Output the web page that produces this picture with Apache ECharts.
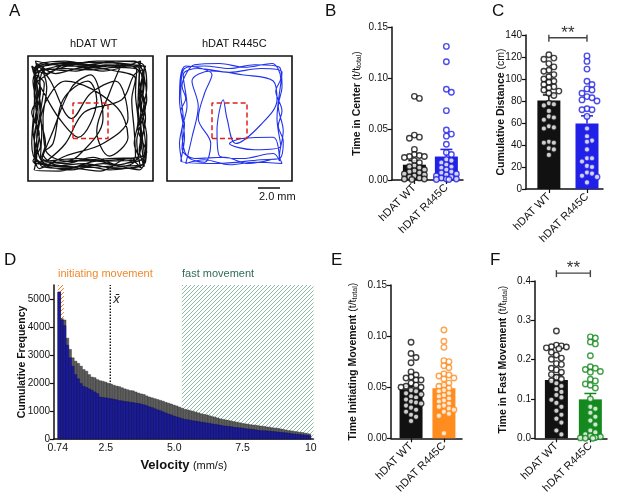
<!DOCTYPE html>
<html>
<head>
<meta charset="utf-8">
<script src="https://cdn.jsdelivr.net/npm/echarts@6/dist/echarts.min.js"></script>
<style>
html, body { margin: 0; padding: 0; background: #fff; }
#chart { width: 617px; height: 496px; }
</style>
</head>
<body>
<div id="chart"></div>
<script>
// ============================
// Datos
// ============================
var groups = ["hDAT WT", "hDAT R445C"];

// B. Tiempo en el centro
var centerWT = [0.080, 0.082, 0.044, 0.042, 0.041, 0.030, 0.024, 0.023, 0.023, 0.025, 0.022, 0.019, 0.017,
    0.014, 0.013, 0.012, 0.010, 0.009, 0.008, 0.007, 0.006, 0.005, 0.004, 0.003, 0.002, 0.001, 0.001, 0.0005];
var centerR = [0.131, 0.116, 0.086, 0.089, 0.068, 0.049, 0.045, 0.043, 0.035, 0.027, 0.025, 0.020, 0.019,
    0.017, 0.015, 0.013, 0.012, 0.010, 0.008, 0.007, 0.006, 0.005, 0.004, 0.003, 0.002, 0.001, 0.001, 0.0005, 0.0005];
var centerMean = [0.015, 0.023];
var centerSem = [0.004, 0.007];

// C. Distancia acumulada
var distWT = [122, 119, 118, 114, 111, 108, 107, 104, 102, 100, 98, 97, 95, 93, 92, 90, 89, 87, 85,
    78, 77, 76, 71, 66, 65, 63, 57, 56, 55, 43, 42, 42, 37, 36, 31];
var distR = [121, 116, 109, 98, 95, 91, 90, 87, 84, 83, 81, 80, 73, 72, 72, 66, 55, 48, 44, 43, 36,
    28, 28, 25, 21, 20, 15, 14, 12, 11, 6];
var distMean = [80.5, 59.5];
var distSem = [5, 7];
var distSig = 137.5;

// E. Tiempo iniciando movimiento
var initWT = [0.094, 0.083, 0.079, 0.074, 0.065, 0.062, 0.060, 0.059, 0.057, 0.057, 0.054, 0.052, 0.051,
    0.050, 0.050, 0.047, 0.046, 0.044, 0.043, 0.041, 0.040, 0.038, 0.036, 0.035, 0.034, 0.032, 0.030,
    0.028, 0.026, 0.023, 0.021, 0.017];
var initR = [0.106, 0.095, 0.089, 0.076, 0.075, 0.071, 0.069, 0.063, 0.062, 0.061, 0.059, 0.058, 0.054,
    0.052, 0.051, 0.049, 0.047, 0.046, 0.044, 0.042, 0.041, 0.039, 0.037, 0.036, 0.034, 0.032, 0.031,
    0.029, 0.028, 0.026, 0.024, 0.022, 0.005];
var initMean = [0.048, 0.049];
var initSem = [0.003, 0.0035];

// F. Tiempo en movimiento rapido
var fastWT = [0.273, 0.237, 0.235, 0.233, 0.232, 0.230, 0.228, 0.219, 0.212, 0.204, 0.201, 0.190, 0.188,
    0.178, 0.174, 0.168, 0.162, 0.155, 0.150, 0.146, 0.140, 0.133, 0.125, 0.118, 0.110, 0.104, 0.098,
    0.090, 0.080, 0.070, 0.060, 0.050, 0.040, 0.020, 0.010];
var fastR = [0.258, 0.255, 0.245, 0.240, 0.210, 0.182, 0.178, 0.175, 0.170, 0.168, 0.150, 0.146, 0.138,
    0.135, 0.128, 0.100, 0.080, 0.075, 0.065, 0.055, 0.045, 0.035, 0.020, 0.015, 0.010, 0.006, 0.004,
    0.002, 0.001, 0.000, 0.000];
var fastMean = [0.148, 0.099];
var fastSem = [0.013, 0.015];
var fastSig = 0.42;

// D. Histograma de velocidad
var velBinStart = 0.74;
var velBinWidth = 0.1;
var freqWT = [5250, 4300, 4250, 3600, 3200, 2900, 2780, 2700, 2600, 2480, 2420, 2300, 2210, 2190, 2120,
    2080, 2060, 2030, 1990, 1960, 1920, 1890, 1870, 1830, 1790, 1760, 1730, 1720, 1680, 1640, 1610,
    1590, 1540, 1500, 1470, 1440, 1410, 1380, 1350, 1310, 1280, 1250, 1210, 1180, 1140, 1100, 1060,
    1040, 1010, 990, 960, 930, 900, 880, 860, 830, 800, 780, 750, 720, 700, 680, 660, 640, 620, 600,
    580, 560, 540, 530, 510, 500, 490, 470, 460, 450, 430, 420, 400, 390, 380, 360, 340, 320, 300,
    290, 270, 260, 240, 230, 210, 190, 170];
var freqR = [5250, 4250, 4050, 3350, 2900, 2600, 2300, 2150, 1980, 1880, 1840, 1790, 1740, 1680, 1620,
    1500, 1480, 1470, 1450, 1440, 1420, 1400, 1370, 1360, 1340, 1330, 1310, 1300, 1280, 1270, 1250,
    1220, 1190, 1150, 1120, 1080, 1040, 1010, 970, 930, 890, 860, 820, 790, 760, 730, 700, 690, 670,
    650, 640, 620, 600, 590, 570, 560, 540, 520, 510, 490, 470, 460, 450, 440, 420, 410, 400, 390,
    375, 360, 350, 340, 325, 310, 300, 295, 290, 280, 270, 260, 250, 240, 230, 220, 205, 190, 180,
    170, 160, 150, 140, 130, 120];
var velMean = 2.66;
var initRange = [0.74, 0.96];
var fastRange = [5.28, 10.1];
var velTicks = [0.74, 2.5, 5.0, 7.5, 10];
var velTickLabels = ["0.74", "2.5", "5.0", "7.5", "10"];
var freqTicks = [0, 1000, 2000, 3000, 4000, 5000];

// A. Trayectorias en el campo abierto (mm, 0-10)
var trackWT = [[0.6, 1.2], [0.5, 3], [0.7, 5], [0.5, 7], [0.8, 9.2], [2.5, 9.4], [4.5, 9.3], [6.5, 9.5],
    [8.5, 9.3], [9.3, 9.1], [9.2, 7], [9.4, 5], [9.1, 3], [9.3, 1.2], [7, 1.0], [5, 1.3], [3, 1.0], [1, 1.3],
    [2, 4], [3.5, 7.5], [5, 8.5], [6, 5], [4, 2], [2.5, 1.5],
    [1, 1.8], [1.1, 4], [0.9, 6.5], [1.2, 8.8], [3, 9], [5, 8.9], [7, 9.1], [8.9, 8.8], [8.8, 6], [9, 4],
    [8.7, 1.7], [6, 1.6], [4, 1.8], [1.5, 1.6],
    [3, 3], [4.5, 5.5], [7.5, 6.5], [8.5, 8.5],
    [9.2, 8.9], [9.0, 6.5], [9.3, 4.5], [8.9, 2.5], [9.2, 1.4], [7.5, 1.2], [5.5, 1.6], [3.5, 1.1], [1.2, 1.5],
    [0.7, 3.5], [1, 6], [0.7, 8], [1.5, 9.3], [3.5, 9.5], [5.5, 9.1], [7.5, 9.4],
    [6.5, 7], [5.5, 4], [6.5, 2], [8, 3.5], [7, 6], [3, 8], [1.5, 6.5],
    [0.9, 4.5], [0.6, 2], [2, 1.2], [4.5, 1.4], [6.5, 1.1], [8.5, 1.5], [9.1, 3.5], [8.8, 5.5], [9.2, 7.5],
    [8.6, 9.2], [6, 9.2], [4, 9.4], [2, 9.1], [0.6, 8.5], [1.3, 7],
    [2.5, 5], [4, 3.5], [5.5, 6.5], [4.8, 8], [2.8, 6.5], [2, 3], [1.2, 2.2],
    [2.2, 1.3], [5, 1.1], [7.8, 1.4], [9.3, 2], [9, 5], [9.3, 8], [8, 9.3], [5, 9.5], [2, 9.3], [0.5, 8.8],
    [0.8, 5.5], [0.5, 3.5], [0.9, 1],
    [3, 2], [6, 3], [8, 5], [7, 8], [5, 7], [3.5, 5], [1.8, 8],
    [1.1, 9], [3.8, 8.8], [6.2, 9.3], [8.7, 9], [8.6, 7], [8.8, 4.8], [8.5, 3], [8.9, 1.9], [6.5, 1.8],
    [3, 1.6], [1.4, 2.5], [1.2, 5], [1.5, 7.5], [0.9, 9.1],
    [0.4, 8], [0.7, 6], [0.4, 4], [0.7, 2], [0.5, 0.9], [2.5, 0.8], [4.5, 1.2], [6.5, 0.9], [8.5, 1.1],
    [9.4, 1.5], [9.5, 3.5], [9.2, 5.5], [9.5, 7.5], [9.1, 9.4], [7, 9.6], [5, 9.3], [3, 9.6], [1, 9.4],
    [0.4, 8.8], [1.3, 7.8], [1.0, 5.2], [1.4, 3], [1.1, 1.9], [3, 1.4], [5.2, 1.9], [7.2, 1.3], [8.6, 2],
    [8.5, 4], [8.3, 6.5], [8.6, 8.2], [7, 8.8], [4.5, 9.1], [2.2, 8.6], [0.7, 9.4], [0.5, 6], [0.3, 3],
    [0.8, 1.5], [3.5, 0.9], [6, 1.4], [8.9, 0.9], [9.4, 2.8], [8.9, 6.8], [9.4, 9.2], [6.8, 9.2],
    [3.2, 9.2], [0.6, 9.6],
    [1.0, 7.2], [0.6, 5.0], [1.0, 2.8], [0.4, 1.6], [2.8, 1.2], [5.8, 0.8], [8.0, 1.8], [9.0, 1.1],
    [8.7, 3.2], [9.4, 6.0], [8.9, 8.0], [9.0, 9.6], [6.0, 8.8], [3.0, 9.3], [1.4, 8.6], [0.3, 9.2],
    [0.8, 6.8], [0.3, 5.5], [0.9, 3.8], [0.5, 1.4], [4.0, 1.6], [7.0, 1.7], [9.5, 2.3], [8.8, 4.2],
    [9.5, 6.5], [8.5, 9.6], [5.5, 9.6], [2.5, 9.0], [0.8, 8.0]];
var trackR = [[1.2, 1.5], [1, 3], [1.3, 5], [1.1, 7], [1.4, 9], [3, 9.2], [5, 9], [7, 9.3], [9, 9.1],
    [9.2, 7.5], [8.9, 6], [9.3, 4], [9, 2], [9.2, 1.4], [7, 1.5], [5, 1.3], [3, 1.7], [1.5, 1.4],
    [2, 3.5], [2.5, 6], [2, 8], [3.5, 8.8], [6, 8.5], [8.5, 8], [8.8, 6.5], [7.5, 4.5], [5.5, 3], [4.8, 5],
    [4.5, 6.5], [4, 4], [4.2, 2], [6, 1.8], [8.5, 2.2], [9, 1.6],
    [8.5, 3.5], [6, 3.4], [5, 3], [7, 2.5], [9.1, 2.8], [8.8, 5], [9.2, 8.7], [7.5, 9], [5, 8.7], [2.5, 9],
    [1.3, 8.5], [1.6, 6], [1.2, 4], [1.6, 2], [3, 1.5], [3.5, 3], [2.5, 5], [3, 7], [3.6, 8.5], [1.5, 9.2],
    [1, 6.5], [1.4, 3.5], [1.1, 1.6], [4, 1.4], [7.5, 1.7], [9, 1.8],
    [9.3, 3.2], [8.9, 4.4], [9.2, 5.6], [8.7, 7.2], [9.1, 8.2], [8.4, 9.4], [6.2, 9.1], [4.2, 9.4],
    [2.2, 9.3], [1.6, 8.7], [1.2, 7.6], [1.5, 6.6], [1.1, 5.6], [1.4, 4.6], [1.2, 2.6], [2.2, 1.8],
    [4.6, 1.9], [6.5, 1.4], [8.3, 1.7]];
var centerZone = [[3.6, 3.4], [6.4, 3.4], [6.4, 6.25], [3.6, 6.25], [3.6, 3.4]];

// ============================
// Estilos comunes
// ============================
var FONT = "Liberation Sans, Arial, sans-serif";
var BLUE = "#2020e6";
var ORANGE = "#ff8c1f";
var GREEN = "#148a1e";
var BLACK = "#111";
var TICK_FONT = 10;

function hatch(color, lw) {
    var c = document.createElement("canvas");
    c.width = 4;
    c.height = 4;
    var g = c.getContext("2d");
    g.strokeStyle = color;
    g.lineWidth = lw;
    g.beginPath();
    g.moveTo(0, 4); g.lineTo(4, 0);
    g.moveTo(-1, 1); g.lineTo(1, -1);
    g.moveTo(3, 5); g.lineTo(5, 3);
    g.stroke();
    return c;
}

// reparte los puntos a lo ancho de la barra sin que se tapen
function swarm(vals, center, pxX, pxY) {
    var placed = [], out = [];
    var order = vals.map((v, i) => i).sort((a, b) => vals[b] - vals[a]);
    var cands = [0, 5, -5, 10, -10, 2.5, -2.5, 7.5, -7.5];
    order.forEach(i => {
        var py = vals[i] * pxY, best = 0, bestD = -1;
        for (var k = 0; k < cands.length; k++) {
            var d = Infinity;
            placed.forEach(p => { d = Math.min(d, Math.hypot(p[0] - cands[k], p[1] - py)); });
            if (d >= 5) { best = cands[k]; break; }
            if (d > bestD) { bestD = d; best = cands[k]; }
        }
        placed.push([best, py]);
        out.push([center + best / pxX, vals[i]]);
    });
    return out;
}

var grids = [], xAxes = [], yAxes = [], series = [];

// ============================
// A. Trayectorias
// ============================
[[trackWT, BLACK, 28, 1.25], [trackR, "#2233ee", 167, 1.1]].forEach(function (t, i) {
    grids.push({ left: t[2], top: 56, width: 125, height: 125, show: true, borderColor: BLACK, borderWidth: 1.6 });
    xAxes.push({ gridIndex: i, type: "value", min: 0, max: 10, show: false });
    yAxes.push({ gridIndex: i, type: "value", min: 0, max: 10, show: false });
    series.push({
        type: "line", xAxisIndex: i, yAxisIndex: i, data: t[0], showSymbol: false, smooth: 0.35,
        lineStyle: { color: t[1], width: t[3] }, silent: true
    });
    series.push({
        type: "line", xAxisIndex: i, yAxisIndex: i, data: centerZone, showSymbol: false, z: 5,
        lineStyle: { color: "#e0201a", width: 1.5, type: [5, 3] }, silent: true
    });
});

// ============================
// B, C, E, F. Barras con puntos
// ============================
var subRich = {
    b: { fontFamily: FONT, fontWeight: "bold", fontSize: 10.5, color: BLACK },
    n: { fontFamily: FONT, fontSize: 10.5, color: BLACK },
    s: { fontFamily: FONT, fontSize: 7, color: BLACK, verticalAlign: "bottom", padding: [3, 0, 0, 0] }
};
var panels = [
    { grid: { left: 392, top: 27, width: 71, height: 153 }, xMin: -0.70, xMax: 1.52, yMax: 0.15, yStep: 0.05, digits: 2,
      colors: [BLACK, BLUE], name: "{b|Time in Center }{n|(t/t}{s|total}{n|)}", nameGap: 29,
      vals: [centerWT, centerR], mean: centerMean, sem: centerSem },
    { grid: { left: 526, top: 35, width: 77, height: 154 }, xMin: -0.6, xMax: 1.42, yMax: 140, yStep: 20, digits: 0,
      colors: [BLACK, BLUE], name: "{b|Cumulative Distance }{n|(cm)}", nameGap: 19.5,
      vals: [distWT, distR], mean: distMean, sem: distSem, sig: distSig },
    { grid: { left: 391, top: 285, width: 71, height: 154 }, xMin: -0.61, xMax: 1.55, yMax: 0.15, yStep: 0.05, digits: 2,
      colors: [BLACK, ORANGE], name: "{b|Time Initiating Movement }{n|(t/t}{s|total}{n|)}", nameGap: 32,
      vals: [initWT, initR], mean: initMean, sem: initSem },
    { grid: { left: 535, top: 281, width: 72, height: 158 }, xMin: -0.63, xMax: 1.49, yMax: 0.4, yStep: 0.1, digits: 1,
      colors: [BLACK, GREEN], name: "{b|Time in Fast Movement }{n|(t/t}{s|total}{n|)}", nameGap: 26,
      vals: [fastWT, fastR], mean: fastMean, sem: fastSem, sig: fastSig }
];

panels.forEach(function (p) {
    var gi = grids.length;
    grids.push(p.grid);
    var pxX = p.grid.width / (p.xMax - p.xMin), pxY = p.grid.height / p.yMax;
    xAxes.push({
        gridIndex: gi, type: "value", min: p.xMin, max: p.xMax, splitLine: { show: false },
        axisLine: { show: true, onZero: false, lineStyle: { color: BLACK, width: 1.5 } },
        axisTick: { show: true, customValues: [0, 1], length: 4, lineStyle: { color: BLACK, width: 1.2 } },
        axisLabel: { customValues: [0, 1], rotate: 45, margin: 6, fontFamily: FONT, fontSize: 11, color: BLACK,
            formatter: v => groups[Math.round(v)] }
    });
    yAxes.push({
        gridIndex: gi, type: "value", min: 0, max: p.yMax, interval: p.yStep, splitLine: { show: false },
        axisLine: { show: true, onZero: false, lineStyle: { color: BLACK, width: 1.5 } },
        axisTick: { show: true, length: 4, lineStyle: { color: BLACK, width: 1.2 } },
        axisLabel: { fontFamily: FONT, fontSize: TICK_FONT, color: BLACK, margin: 4, formatter: v => v.toFixed(p.digits) },
        name: p.name, nameLocation: "middle", nameGap: p.nameGap, nameRotate: 90, nameMoveOverlap: false,
        nameTextStyle: { rich: subRich }
    });
    series.push({
        type: "bar", xAxisIndex: gi, yAxisIndex: gi, barWidth: 23, z: 2, silent: true,
        data: p.mean.map((m, i) => ({ value: [i, m], itemStyle: { color: p.colors[i] } }))
    });
    series.push({
        type: "custom", xAxisIndex: gi, yAxisIndex: gi, z: 4, silent: true,
        data: p.mean.map((m, i) => [i, m, p.sem[i]]),
        renderItem: function (params, api) {
            var base = api.coord([api.value(0), api.value(1)]);
            var top = api.coord([api.value(0), api.value(1) + api.value(2)]);
            var c = p.colors[params.dataIndex];
            return {
                type: "group", children: [
                    { type: "line", shape: { x1: base[0], y1: base[1], x2: top[0], y2: top[1] }, style: { stroke: c, lineWidth: 1.5 } },
                    { type: "line", shape: { x1: top[0] - 6, y1: top[1], x2: top[0] + 6, y2: top[1] }, style: { stroke: c, lineWidth: 1.5 } }
                ]
            };
        }
    });
    p.vals.forEach(function (vals, i) {
        series.push({
            type: "scatter", xAxisIndex: gi, yAxisIndex: gi, z: 6, silent: true,
            symbol: "circle", symbolSize: 5.5,
            itemStyle: { color: "#fff", borderColor: p.colors[i], borderWidth: 1.4 },
            data: swarm(vals, i, pxX, pxY)
        });
    });
    if (p.sig !== undefined) {
        series.push({
            type: "custom", xAxisIndex: gi, yAxisIndex: gi, z: 7, silent: true, clip: false,
            data: [[0, 1, p.sig]],
            renderItem: function (params, api) {
                var a = api.coord([api.value(0), api.value(2)]);
                var b = api.coord([api.value(1), api.value(2)]);
                var st = { stroke: "#444", lineWidth: 1.4 };
                return {
                    type: "group", children: [
                        { type: "line", shape: { x1: a[0], y1: a[1], x2: b[0], y2: b[1] }, style: st },
                        { type: "line", shape: { x1: a[0], y1: a[1] - 3, x2: a[0], y2: a[1] + 4 }, style: st },
                        { type: "line", shape: { x1: b[0], y1: b[1] - 3, x2: b[0], y2: b[1] + 4 }, style: st },
                        { type: "text", style: { text: "**", x: (a[0] + b[0]) / 2, y: a[1] + 4, align: "center",
                            verticalAlign: "bottom", fontFamily: FONT, fontSize: 17, fill: "#333" } }
                    ]
                };
            }
        });
    }
});

// ============================
// D. Histograma de velocidad
// ============================
var gD = grids.length;
grids.push({ left: 54, top: 285, width: 259.5, height: 154 });
xAxes.push({
    gridIndex: gD, type: "value", min: 0.6, max: 10.1, splitLine: { show: false },
    axisLine: { show: true, onZero: false, lineStyle: { color: BLACK, width: 1.5 } },
    axisTick: { show: false },
    axisLabel: { customValues: velTicks, margin: 4, fontFamily: FONT, fontSize: 10.5, color: BLACK,
        formatter: v => velTickLabels[velTicks.indexOf(v)] },
    name: "{b|Velocity} {n|(mm/s)}", nameLocation: "middle", nameGap: 20, nameMoveOverlap: false,
    nameTextStyle: { rich: { b: { fontFamily: FONT, fontWeight: "bold", fontSize: 13, color: BLACK },
        n: { fontFamily: FONT, fontSize: 11, color: BLACK } } }
});
yAxes.push({
    gridIndex: gD, type: "value", min: 0, max: 5500, splitLine: { show: false },
    axisLine: { show: true, onZero: false, lineStyle: { color: BLACK, width: 1.5 } },
    axisTick: { show: true, customValues: freqTicks, length: 4, lineStyle: { color: BLACK, width: 1.2 } },
    axisLabel: { customValues: freqTicks, margin: 4, fontFamily: FONT, fontSize: TICK_FONT, color: BLACK,
        formatter: v => String(v) },
    name: "Cumulative Frequency", nameLocation: "middle", nameGap: 26.5, nameMoveOverlap: false,
    nameTextStyle: { fontFamily: FONT, fontWeight: "bold", fontSize: 10.5, color: BLACK }
});
var hatchInit = hatch("#ee7d2a", 1), hatchFast = hatch("#7fb39d", 0.9);
series.push({
    type: "custom", xAxisIndex: gD, yAxisIndex: gD, z: 1, silent: true,
    data: [[initRange[0], initRange[1], 0], [fastRange[0], fastRange[1], 1]],
    renderItem: function (params, api) {
        var p0 = api.coord([api.value(0), 5500]), p1 = api.coord([api.value(1), 0]);
        return { type: "rect", shape: { x: p0[0], y: p0[1], width: p1[0] - p0[0], height: p1[1] - p0[1] },
            style: { fill: { image: api.value(2) ? hatchFast : hatchInit, repeat: "repeat" } } };
    }
});
series.push({
    type: "custom", xAxisIndex: gD, yAxisIndex: gD, z: 1, silent: true,
    data: [[velMean]],
    renderItem: function (params, api) {
        var p0 = api.coord([api.value(0), 0]), p1 = api.coord([api.value(0), 5500]);
        return { type: "group", children: [
            { type: "line", shape: { x1: p0[0], y1: p0[1], x2: p1[0], y2: p1[1] },
              style: { stroke: "#000", lineWidth: 1.3, lineDash: [1.5, 1.5] } },
            { type: "text", style: { text: "x\u0304", x: p1[0] + 3, y: p1[1] + 8, fontFamily: FONT,
              fontSize: 13, fontStyle: "italic", fill: "#222" } }
        ] };
    }
});
[[freqWT, "#5e5e5e", "#262626"], [freqR, "#1c1c98", "#0d0d55"]].forEach(function (h, k) {
    series.push({
        type: "custom", xAxisIndex: gD, yAxisIndex: gD, z: 2 + k, silent: true,
        data: h[0].map((v, i) => [velBinStart + i * velBinWidth, v]),
        renderItem: function (params, api) {
            var x0 = api.value(0), x1 = Math.min(x0 + velBinWidth, 10);
            var p0 = api.coord([x0, api.value(1)]), p1 = api.coord([x1, 0]);
            return { type: "rect", shape: { x: p0[0], y: p0[1], width: p1[0] - p0[0], height: p1[1] - p0[1] },
                style: { fill: h[1], stroke: h[2], lineWidth: 0.4 } };
        }
    });
});

// ============================
// Textos sueltos
// ============================
function txt(t, x, y, size, color, align) {
    return { type: "text", left: x, top: y, style: { text: t, fontFamily: FONT, fontSize: size, fill: color || BLACK,
        align: align || "left" } };
}
var graphics = [
    txt("A", 9, 3, 17), txt("B", 325, 3, 17), txt("C", 492, 3, 17),
    txt("D", 4, 252, 17), txt("E", 331, 252, 17), txt("F", 490, 252, 17),
    txt("hDAT WT", 70, 38, 11), txt("hDAT R445C", 202, 38, 11),
    txt("2.0 mm", 259, 191, 11),
    txt("initiating movement", 58, 268, 11, "#ef8a2c"),
    txt("fast movement", 182, 268, 11, "#2e6e54"),
    { type: "line", shape: { x1: 258, y1: 188, x2: 280, y2: 188 }, style: { stroke: BLACK, lineWidth: 1.5 } }
];

var chart = echarts.init(document.getElementById("chart"));
chart.setOption({
    animation: false,
    backgroundColor: "#fff",
    textStyle: { fontFamily: FONT },
    grid: grids,
    xAxis: xAxes,
    yAxis: yAxes,
    series: series,
    graphic: graphics
});
</script>
</body>
</html>
